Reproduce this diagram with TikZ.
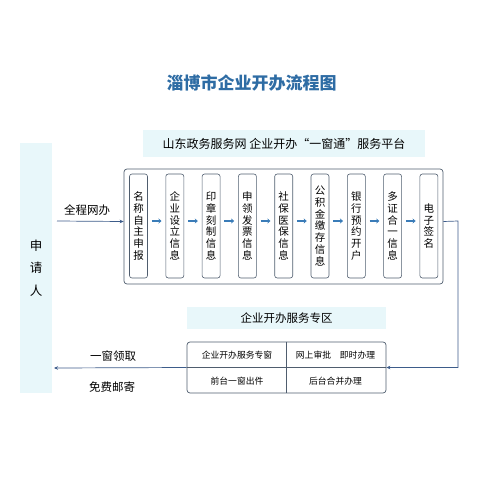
\documentclass[tikz,border=0pt]{standalone}
\usepackage{fontspec}
\setmainfont{Noto Sans CJK SC}
\usetikzlibrary{arrows.meta}
\definecolor{titleblue}{HTML}{2E6CA4}
\definecolor{bandcyan}{HTML}{E8F7FA}
\definecolor{boxline}{HTML}{4F5D6E}
\definecolor{flowblue}{HTML}{3D5C8A}
\definecolor{stepblue}{HTML}{3A7CB8}

\begin{document}
\begin{tikzpicture}[x=1pt, y=-1pt,
    band/.style = {fill=bandcyan, inner sep=0},
    stepbox/.style = {draw=boxline, line width=0.6pt, rounded corners=2.5pt,
      minimum width=18, minimum height=104, inner sep=0, align=center,
      font=\fontsize{10.5}{11.7}\selectfont},
    flow/.style = {draw=flowblue, line width=0.7pt, -{Stealth[length=4pt,width=3.5pt]}},
    stepflow/.style = {draw=stepblue, line width=1.6pt, -{Stealth[length=3pt,width=5pt]}},
    lbl/.style = {font=\fontsize{11.5}{12}\selectfont}]
        \useasboundingbox (0,0) rectangle (500,479);
        % title
        \node[text=titleblue, font=\fontsize{17}{18}\selectfont\bfseries] (T) at (251.5,83) {淄博市企业开办流程图};
        % bands
        \node[band, minimum width=282, minimum height=27, font=\fontsize{12}{13}\selectfont] (H) at (284,143.5) {山东政务服务网 企业开办“一窗通”服务平台};
        \node[band, minimum width=32, minimum height=250, align=center, font=\fontsize{12.5}{22.5}\selectfont] (S) at (36,268) {申\\请\\人};
        \node[band, minimum width=199, minimum height=22, lbl] (Q) at (286.5,318) {企业开办服务专区};
        % platform
        \node[draw=boxline, line width=0.7pt, rounded corners=3pt, minimum width=319, minimum height=115] (P) at (283.5,226.5) {};
        \node[stepbox] (A) at (138.5,226) {名\\称\\自\\主\\申\\报};
        \node[stepbox] (B) at (174.8,226) {企\\业\\设\\立\\信\\息};
        \node[stepbox] (C) at (211.1,226) {印\\章\\刻\\制\\信\\息};
        \node[stepbox] (D) at (247.4,226) {申\\领\\发\\票\\信\\息};
        \node[stepbox] (E) at (283.7,226) {社\\保\\医\\保\\信\\息};
        \node[stepbox] (F) at (320,226) {公\\积\\金\\缴\\存\\信\\息};
        \node[stepbox] (G) at (356.3,226) {银\\行\\预\\约\\开\\户};
        \node[stepbox] (I) at (392.6,226) {多\\证\\合\\一\\信\\息};
        \node[stepbox] (J) at (428.9,226) {电\\子\\签\\名};
        \draw[stepflow] ([xshift=4pt,yshift=5pt]A.east) -- ([xshift=-4pt,yshift=5pt]B.west);
        \draw[stepflow] ([xshift=4pt,yshift=5pt]B.east) -- ([xshift=-4pt,yshift=5pt]C.west);
        \draw[stepflow] ([xshift=4pt,yshift=5pt]C.east) -- ([xshift=-4pt,yshift=5pt]D.west);
        \draw[stepflow] ([xshift=4pt,yshift=5pt]D.east) -- ([xshift=-4pt,yshift=5pt]E.west);
        \draw[stepflow] ([xshift=4pt,yshift=5pt]E.east) -- ([xshift=-4pt,yshift=5pt]F.west);
        \draw[stepflow] ([xshift=4pt,yshift=5pt]F.east) -- ([xshift=-4pt,yshift=5pt]G.west);
        \draw[stepflow] ([xshift=4pt,yshift=5pt]G.east) -- ([xshift=-4pt,yshift=5pt]I.west);
        \draw[stepflow] ([xshift=4pt,yshift=5pt]I.east) -- ([xshift=-4pt,yshift=5pt]J.west);
        % service zone
        \node[draw=boxline, line width=0.7pt, rounded corners=3pt, minimum width=199, minimum height=51] (Z) at (286.5,367.5) {};
        \draw[boxline, line width=0.6pt] (Z.north) -- (Z.south);
        \draw[boxline, line width=0.6pt] (Z.west) -- (Z.east);
        \node[font=\fontsize{8.8}{9}\selectfont] (Z1) at (237,355) {企业开办服务专窗};
        \node[font=\fontsize{8.8}{9}\selectfont] (Z2) at (335.5,355) {网上审批\quad 即时办理};
        \node[font=\fontsize{8.8}{9}\selectfont] (Z3) at (237,381) {前台一窗出件};
        \node[font=\fontsize{8.8}{9}\selectfont] (Z4) at (335.5,381) {后台合并办理};
        % connectors
        \coordinate (in) at (57,221);
        \coordinate (out) at (54,368);
        \coordinate (turn) at (458,221);
        \draw[flow] (in) -- ([yshift=5pt]P.west);
        \node[lbl] (L1) at (87,210) {全程网办};
        \draw[flow] ([yshift=5pt]P.east) -- (turn) |- (Z.east);
        \draw[flow] (Z.west) -- (out);
        \node[lbl] (L2) at (113,356) {一窗领取};
        \node[lbl] (L3) at (112,387) {免费邮寄};
      \end{tikzpicture}
\end{document}
